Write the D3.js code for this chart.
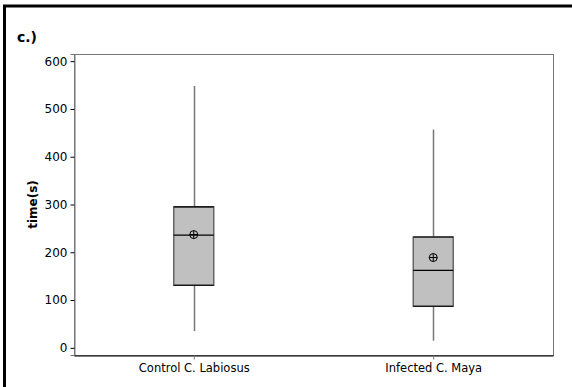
<!DOCTYPE html>
<html lang="en">
<head>
    <meta charset="UTF-8">
    <title>Boxplot</title>
    <style>
        body { margin: 0; padding: 0; overflow: hidden; background: #fff; }
        svg { display: block; font-family: "DejaVu Sans", Verdana, sans-serif; }
    </style>
</head>
<body>
<svg id="chart" width="572" height="387"></svg>
<script src="https://cdn.jsdelivr.net/npm/d3@7"></script>
<script>
    // values
    const groups = ["Control C. Labiosus", "Infected C. Maya"];
    const whiskerLow = [35, 15];
    const q1 = [131, 87];
    const median = [236, 162];
    const q3 = [295, 232];
    const whiskerHigh = [548, 457];
    const means = [237, 189];
    const yTicks = [0, 100, 200, 300, 400, 500, 600];

    const w = 572, h = 387;
    const margin = {left: 74, right: 19, top: 54, bottom: 32};
    const svg = d3.select("#chart");

    // outer frame (cut off at right / bottom like the original)
    svg.append("path")
        .attr("d", `M 4.5 ${h} L 4.5 6 L ${w} 6`)
        .attr("fill", "none")
        .attr("stroke", "#000")
        .attr("stroke-width", 3);

    svg.append("text")
        .attr("x", 17).attr("y", 42)
        .attr("font-size", 14).attr("font-weight", "bold")
        .text("c.)");

    const x = d3.scalePoint()
        .domain(groups)
        .range([margin.left, w - margin.right])
        .padding(0.5);

    const y = d3.scaleLinear()
        .domain([-15, 615])
        .range([h - margin.bottom, margin.top]);

    // plot frame
    svg.append("rect")
        .attr("x", margin.left + 0.5).attr("y", margin.top + 0.5)
        .attr("width", w - margin.left - margin.right)
        .attr("height", h - margin.top - margin.bottom)
        .attr("fill", "none")
        .attr("stroke", "#777");

    const yAxis = svg.append("g")
        .attr("transform", `translate(${margin.left + 0.5},0)`)
        .call(d3.axisLeft(y).tickValues(yTicks).tickSize(4).tickPadding(3));
    yAxis.select(".domain").attr("stroke", "#777");
    yAxis.selectAll("line").attr("stroke", "#000");
    yAxis.selectAll("text").attr("font-size", 12).attr("fill", "#000")
        .attr("font-family", "DejaVu Sans, Verdana, sans-serif");

    const xAxis = svg.append("g")
        .attr("transform", `translate(0,${h - margin.bottom + 0.5})`)
        .call(d3.axisBottom(x).tickSize(4).tickPadding(4).tickSizeOuter(0));
    xAxis.select(".domain").attr("stroke", "#000");
    xAxis.selectAll("line").attr("stroke", "#777");
    xAxis.selectAll("text").attr("font-size", 11.5).attr("fill", "#000")
        .attr("font-family", "DejaVu Sans, Verdana, sans-serif");

    svg.append("text")
        .attr("transform", `translate(37,${(margin.top + h - margin.bottom) / 2}) rotate(-90)`)
        .attr("text-anchor", "middle")
        .attr("font-size", 12).attr("font-weight", "bold")
        .text("time(s)");

    const boxW = 40;
    const data = groups.map((g, i) => ({
        g, lo: whiskerLow[i], q1: q1[i], med: median[i], q3: q3[i], hi: whiskerHigh[i], mean: means[i]
    }));

    const box = svg.selectAll(".box").data(data).enter().append("g").attr("class", "box");

    box.append("line")
        .attr("x1", d => Math.round(x(d.g)) + 0.5).attr("x2", d => Math.round(x(d.g)) + 0.5)
        .attr("y1", d => y(d.lo)).attr("y2", d => y(d.hi))
        .attr("stroke", "#777").attr("stroke-width", 1.5);

    box.append("rect")
        .attr("x", d => x(d.g) - boxW / 2)
        .attr("y", d => y(d.q3))
        .attr("width", boxW)
        .attr("height", d => y(d.q1) - y(d.q3))
        .attr("fill", "#c0c0c0")
        .attr("stroke", "#666").attr("stroke-width", 1.5);

    // top / bottom edges of the box are black
    ["q1", "q3", "med"].forEach(k => {
        box.append("line")
            .attr("x1", d => x(d.g) - boxW / 2).attr("x2", d => x(d.g) + boxW / 2)
            .attr("y1", d => y(d[k])).attr("y2", d => y(d[k]))
            .attr("stroke", "#000").attr("stroke-width", 1.2);
    });

    // mean symbol
    const r = 4;
    box.append("circle")
        .attr("cx", d => x(d.g)).attr("cy", d => y(d.mean))
        .attr("r", r).attr("fill", "none").attr("stroke", "#000");
    box.append("path")
        .attr("d", d => `M ${x(d.g) - r} ${y(d.mean)} H ${x(d.g) + r} M ${x(d.g)} ${y(d.mean) - r} V ${y(d.mean) + r}`)
        .attr("stroke", "#000").attr("fill", "none");
</script>
</body>
</html>
